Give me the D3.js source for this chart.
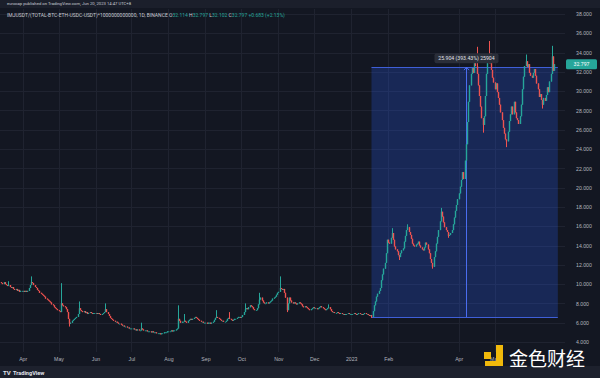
<!DOCTYPE html>
<html>
<head>
<meta charset="utf-8">
<script src="https://cdn.jsdelivr.net/npm/d3@7"></script>
<style>
  body { margin: 0; background: #131722; }
  svg { display: block; font-family: Roboto, "DejaVu Sans", sans-serif; }
</style>
</head>
<body>
<div id="chart"></div>
<script>
// daily closes, one array per month (open = previous close)
const firstOpen = 10.2
const mar22 = [10.1,10.0,10.2,10.0,9.9,9.8,9.9,9.7,9.6,9.7,9.5,9.4,9.5,9.3,9.4,9.2,9.3,9.3]
const apr22 = [9.3,9.2,9.3,9.2,9.3,9.6,9.9,10.2,10.1,9.9,9.7,9.6,9.4,9.3,9.1,9.0,8.9,8.8,8.7,8.5,8.4,8.3,8.2,8.1,7.9,7.8,7.6,7.5,7.4,7.3]
const may22 = [7.2,7.1,8.0,7.8,7.7,7.6,7.4,7.1,6.4,5.9,6.0,6.2,6.3,6.4,6.5,6.6,6.9,7.5,7.3,7.2,7.1,7.2,7.0,7.1,6.9,7.0,7.1,7.0,6.9,7.0,7.0]
const jun22 = [7.0,6.9,7.0,6.9,6.8,6.9,7.0,7.1,7.4,7.1,6.9,6.7,6.5,6.4,6.3,6.2,6.1,6.1,6.0,5.9,5.9,5.8,5.7,5.7,5.6,5.6,5.5,5.5,5.4,5.4]
const jul22 = [5.4,5.4,5.3,5.3,5.2,5.3,5.2,5.2,5.4,5.3,5.2,5.2,5.2,5.1,5.1,5.1,5.0,5.1,5.0,5.0,5.0,4.9,4.9,4.9,4.8,4.9,4.9,5.0,5.0,5.0,5.1]
const aug22 = [5.1,5.1,5.2,5.1,5.2,5.2,5.3,5.4,6.4,6.2,6.0,6.1,6.1,6.2,6.1,6.0,6.2,6.3,6.4,6.3,6.4,6.5,6.6,6.5,6.4,6.3,6.2,6.1,6.1,6.0,6.0]
const sep22 = [6.0,5.9,6.0,6.0,5.9,6.0,6.1,6.3,6.5,6.6,6.5,6.4,6.3,6.2,6.2,6.1,6.1,6.2,6.4,6.5,6.4,6.3,6.2,6.3,6.4,6.4,6.5,6.6,6.6,6.5]
const oct22 = [6.6,6.8,7.1,7.4,7.5,7.4,7.6,7.8,7.7,7.6,7.4,7.3,7.3,7.5,7.9,8.4,8.6,8.3,8.1,8.0,8.0,8.1,8.0,8.1,8.2,8.3,8.5,8.6,8.7,8.9,9.1]
const nov22 = [9.2,9.6,9.5,9.4,9.5,9.1,8.6,7.3,8.0,8.6,8.3,8.1,8.0,8.1,8.0,7.9,8.0,8.1,8.0,7.9,7.7,7.6,7.7,7.6,7.5,7.4,7.3,7.4,7.5,7.6]
const dec22 = [7.5,7.5,7.4,7.5,7.6,7.7,7.6,7.5,7.4,7.3,7.4,7.5,7.6,7.4,7.2,7.1,7.1,7.0,7.0,7.1,7.0,6.9,7.0,6.9,6.9,6.8,6.9,6.9,7.0,6.9,6.9]
const jan23 = [6.9,6.9,7.0,6.9,6.8,6.9,7.0,6.9,6.9,6.8,6.9,7.0,6.9,6.9,6.8,6.7,6.8,6.6,7.2,7.8,8.2,8.7,9.0,9.3,9.6,10.4,11.0,11.6,12.2,13.2,14.6]
const feb23 = [14.3,14.2,14.8,15.3,14.6,13.9,13.6,13.4,13.0,12.8,13.2,13.5,13.7,14.4,15.0,15.6,15.9,15.4,15.1,14.7,14.2,14.0,13.9,14.1,14.2,14.4,14.0,13.8]
const mar23 = [13.6,13.5,13.8,14.3,14.1,13.6,13.2,12.6,12.2,11.8,12.8,13.4,14.2,14.9,15.6,16.5,17.5,17.0,16.4,15.9,15.6,15.4,15.0,15.1,15.3,15.6,16.2,16.9,17.6,18.2,18.8]
const apr23 = [19.4,20.1,20.8,21.6,20.9,22.8,24.5,26.8,28.9,30.6,31.8,32.4,31.9,33.2,32.6,31.8,30.6,29.5,28.4,27.2,26.5,27.4,29.5,31.8,33.6,32.9,33.9,32.2,31.4,30.9]
const may23 = [30.2,30.8,29.9,29.3,28.6,27.8,27.0,26.2,25.6,25.0,24.8,25.8,26.9,27.6,28.4,27.6,28.9,27.8,27.2,27.0,26.6,27.4,28.6,30.2,31.5,32.6,33.1,32.5,32.8,31.9,31.6]
const jun23 = [31.4,31.9,32.3,31.6,30.8,30.2,29.4,29.7,29.1,28.6,29.3,29.0,29.6,30.4,29.9,31.0,31.8,33.6,32.114,32.797]

const monthStarts = ["2022-03-14","2022-04-01","2022-05-01","2022-06-01","2022-07-01","2022-08-01","2022-09-01",
  "2022-10-01","2022-11-01","2022-12-01","2023-01-01","2023-02-01","2023-03-01","2023-04-01","2023-05-01","2023-06-01"]
const monthCloses = [mar22, apr22, may22, jun22, jul22, aug22, sep22, oct22, nov22, dec22, jan23, feb23, mar23, apr23, may23, jun23]

// wicks that reach beyond the body
const wickHighs = [["2022-03-20",10.3],["2022-04-08",10.8],["2022-05-03",10.1],["2022-05-18",8.2],["2022-06-09",8.0],
  ["2022-07-09",6.0],["2022-08-09",7.8],["2022-08-14",6.9],["2022-09-10",7.3],["2022-09-21",7.1],["2022-10-04",8.0],
  ["2022-10-16",9.1],["2022-11-02",10.8],["2022-12-13",7.9],["2023-02-04",15.8],["2023-02-17",16.2],["2023-03-17",17.9],
  ["2023-04-16",34.6],["2023-04-26",35.2],["2023-05-27",33.8],["2023-06-18",34.7],["2023-06-20",32.797]]
const wickLows = [["2022-05-10",5.6],["2022-11-08",7.1],["2023-01-18",6.5],["2023-02-10",12.5],["2023-03-10",11.6],
  ["2023-03-23",14.8],["2023-04-21",25.7],["2023-05-11",24.2],["2023-06-10",28.2],["2023-06-20",32.102]]

// axes
const yTicks = [4,6,8,10,12,14,16,18,20,22,24,26,28,30,32,34,36,38]
const xTickDates = ["2022-04-01","2022-05-01","2022-06-01","2022-07-01","2022-08-01","2022-09-01","2022-10-01",
  "2022-11-01","2022-12-01","2023-01-01","2023-02-01","2023-04-01","2023-05-01"]
const xTickLabels = ["Apr","May","Jun","Jul","Aug","Sep","Oct","Nov","Dec","2023","Feb","Apr","May"]

// date/price range measurement
const measureDates = ["2023-01-18","2023-06-23"]
const measurePrices = [6.584, 32.488]
const measureLabel = "25.904 (393.43%) 25904"

const lastPrice = 32.797
const headerTop = "eurocap published on TradingView.com, Jun 20, 2023 14:47 UTC+8"
const headerSymbol = "IMJUSDT/(TOTAL-BTC-ETH-USDC-USDT)*1000000000000, 1D, BINANCE"
const headerOhlc = [["O","32.114"],["H","32.797"],["L","32.102"],["C","32.797"],["","+0.683 (+2.13%)"]]

const parse = d3.utcParse("%Y-%m-%d")

// build candles
let candles = []
let prev = firstOpen
monthCloses.forEach((closes, m) => {
  const start = parse(monthStarts[m])
  closes.forEach((c, i) => {
    const date = d3.utcDay.offset(start, i)
    candles.push({ key: d3.utcFormat("%Y-%m-%d")(date), date, open: prev, close: c,
      high: Math.max(prev, c), low: Math.min(prev, c) })
    prev = c
  })
})
const byKey = new Map(candles.map(d => [d.key, d]))
wickHighs.forEach(([k, v]) => { const d = byKey.get(k); if (d) d.high = Math.max(d.high, v) })
wickLows.forEach(([k, v]) => { const d = byKey.get(k); if (d) d.low = Math.min(d.low, v) })

// DIMENSIONS
const dimensions = {
  width: 600,
  height: 378,
  margin: { top: 9, right: 35, bottom: 26, left: 0 },
}
dimensions.boundedWidth = dimensions.width - dimensions.margin.left - dimensions.margin.right
dimensions.boundedHeight = dimensions.height - dimensions.margin.top - dimensions.margin.bottom

const wrapper = d3.select("#chart").append("svg")
  .attr("width", dimensions.width)
  .attr("height", dimensions.height)

// backgrounds
wrapper.append("rect").attr("width", 600).attr("height", 378).attr("fill", "#131722")
wrapper.append("rect").attr("width", 600).attr("height", 8).attr("fill", "#1b1f2b")
wrapper.append("rect").attr("y", 366).attr("width", 600).attr("height", 12).attr("fill", "#1d212d")

const bounds = wrapper.append("g")
  .attr("transform", `translate(${dimensions.margin.left},${dimensions.margin.top})`)

// SCALES
const xScale = d3.scaleUtc()
  .domain([parse("2022-03-13"), parse("2023-06-29")])
  .range([0, dimensions.boundedWidth])
const yScale = d3.scaleLinear()
  .domain([4, 38])
  .range([342 - dimensions.margin.top, 14 - dimensions.margin.top])

// grid
bounds.append("g").selectAll("line").data(yTicks).join("line")
  .attr("x1", 0).attr("x2", dimensions.boundedWidth)
  .attr("y1", d => Math.round(yScale(d)) + 0.5).attr("y2", d => Math.round(yScale(d)) + 0.5)
  .attr("stroke", "#1f2330")
bounds.append("g").selectAll("line").data(xTickDates.map(parse)).join("line")
  .attr("x1", d => Math.round(xScale(d)) + 0.5).attr("x2", d => Math.round(xScale(d)) + 0.5)
  .attr("y1", 0).attr("y2", dimensions.boundedHeight)
  .attr("stroke", "#1f2330")

// measurement rectangle
const mx0 = xScale(parse(measureDates[0]))
const mx1 = xScale(parse(measureDates[1]))
const my0 = yScale(measurePrices[0])
const my1 = yScale(measurePrices[1])
const measure = bounds.append("g")
measure.append("rect")
  .attr("x", mx0).attr("y", my1)
  .attr("width", mx1 - mx0).attr("height", my0 - my1)
  .attr("fill", "rgba(41,98,255,0.24)")
measure.selectAll("line.edge").data([my1, my0]).join("line")
  .attr("class", "edge")
  .attr("x1", mx0).attr("x2", mx1)
  .attr("y1", d => Math.round(d) + 0.5).attr("y2", d => Math.round(d) + 0.5)
  .attr("stroke", "#3f5fd8")

const mxc = Math.round((mx0 + mx1) / 2) + 1.5
measure.append("line")
  .attr("x1", mxc).attr("x2", mxc)
  .attr("y1", my0).attr("y2", my1)
  .attr("stroke", "#4a6df0")
measure.append("path")
  .attr("d", `M${mxc - 2.5},${my1 + 3} L${mxc},${my1} L${mxc + 2.5},${my1 + 3}`)
  .attr("fill", "none").attr("stroke", "#4a6df0")

// candles
const up = "#26a69a"
const down = "#ef5350"
const candleG = bounds.append("g")
candleG.selectAll("line").data(candles).join("line")
  .attr("x1", d => Math.round(xScale(d.date)) + 0.5)
  .attr("x2", d => Math.round(xScale(d.date)) + 0.5)
  .attr("y1", d => yScale(d.high))
  .attr("y2", d => yScale(d.low))
  .attr("stroke", d => d.close >= d.open ? up : down)
  .attr("stroke-width", 1)
candleG.selectAll("rect").data(candles).join("rect")
  .attr("x", d => Math.round(xScale(d.date)) - 0.2)
  .attr("y", d => yScale(Math.max(d.open, d.close)))
  .attr("width", 1.4)
  .attr("height", d => Math.max(0.8, Math.abs(yScale(d.open) - yScale(d.close))))
  .attr("fill", d => d.close >= d.open ? up : down)

// measurement label
const labelG = bounds.append("g")
labelG.append("rect")
  .attr("x", mxc - 32).attr("y", my1 - 14)
  .attr("width", 64).attr("height", 10).attr("rx", 2)
  .attr("fill", "#2a2e39")
labelG.append("text")
  .attr("x", mxc).attr("y", my1 - 7.2)
  .attr("text-anchor", "middle")
  .attr("fill", "#e0e3eb")
  .style("font-size", "5.2px")
  .text(measureLabel)

// AXES
const yAxis = d3.axisRight(yScale)
  .tickValues(yTicks)
  .tickFormat(d3.format(".3f"))
  .tickSize(0)
  .tickPadding(11)
const yAxisG = bounds.append("g")
  .attr("transform", `translate(${dimensions.boundedWidth},0)`)
  .call(yAxis)
yAxisG.select(".domain").remove()
yAxisG.selectAll("text").attr("fill", "#b2b5be").style("font-size", "5.2px")

const xAxis = d3.axisBottom(xScale)
  .tickValues(xTickDates.map(parse))
  .tickFormat((d, i) => xTickLabels[i])
  .tickSize(0)
  .tickPadding(5)
const xAxisG = bounds.append("g")
  .attr("transform", `translate(0,${dimensions.boundedHeight})`)
  .call(xAxis)
xAxisG.select(".domain").remove()
xAxisG.selectAll("text").attr("fill", "#b2b5be").style("font-size", "5.2px")

// last price tag
const py = yScale(lastPrice) + dimensions.margin.top
wrapper.append("rect")
  .attr("x", 566).attr("y", py - 5).attr("width", 31).attr("height", 10).attr("rx", 1.5)
  .attr("fill", up)
wrapper.append("text")
  .attr("x", 581.5).attr("y", py + 1.8)
  .attr("text-anchor", "middle")
  .attr("fill", "#ffffff")
  .style("font-size", "5.2px")
  .text(d3.format(".3f")(lastPrice))

// header
wrapper.append("text")
  .attr("x", 7).attr("y", 5.3)
  .attr("fill", "#c8cbd3")
  .style("font-size", "4.2px")
  .text(headerTop)
const hdr = wrapper.append("text")
  .attr("x", 7).attr("y", 16.8)
  .attr("fill", "#c8cbd3")
  .style("font-size", "5px")
hdr.append("tspan").text(headerSymbol + " ")
headerOhlc.forEach(([k, v]) => {
  hdr.append("tspan").attr("fill", "#c8cbd3").text(" " + k)
  hdr.append("tspan").attr("fill", up).text(v)
})

// footer logo
wrapper.append("text")
  .attr("x", 3).attr("y", 375)
  .attr("fill", "#e0e3eb")
  .style("font-size", "6px")
  .style("font-weight", "bold")
  .text("TV")
wrapper.append("text")
  .attr("x", 13).attr("y", 375)
  .attr("fill", "#e0e3eb")
  .style("font-size", "5.6px")
  .style("font-weight", "bold")
  .text("TradingView")

// watermark
const wm = wrapper.append("g")
wm.append("rect").attr("x", 484).attr("y", 352).attr("width", 7).attr("height", 7).attr("fill", "#f0b90b")
wm.append("path")
  .attr("d", "M496,345 L503,345 L503,366 L485,366 L485,361 L496,361 Z")
  .attr("fill", "#f0b90b")
wm.append("text")
  .attr("x", 509).attr("y", 365.5)
  .attr("fill", "#ffffff")
  .style("font-family", "'Noto Sans CJK SC', sans-serif")
  .style("font-size", "19px")
  .text("金色财经")
</script>
</body>
</html>
